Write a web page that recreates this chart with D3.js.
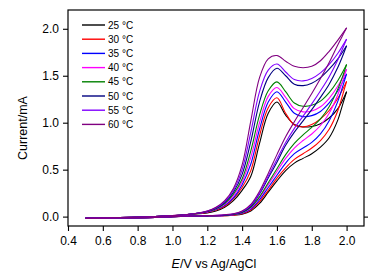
<!DOCTYPE html>
<html><head><meta charset="utf-8">
<script src="https://cdn.jsdelivr.net/npm/d3@7"></script>
<style>body{margin:0;background:#fff}svg{display:block}</style>
</head><body><svg id="c" width="390" height="280"></svg>
<script>
// ---- data ----
const temps = ["25 °C","30 °C","35 °C","40 °C","45 °C","50 °C","55 °C","60 °C"];
const colors = ["#000000","#ff0000","#0000ff","#ff00ff","#008000","#000080","#8000ff","#800080"];
const xTicks = [0.4,0.6,0.8,1.0,1.2,1.4,1.6,1.8,2.0];
const yTicks = [0.0,0.5,1.0,1.5,2.0];
// forward scan potentials and reverse scan potentials (V)
const xFwd = [0.5,0.7,0.9,1.0,1.1,1.2,1.25,1.3,1.35,1.4,1.45,1.5,1.55,1.6,1.65,1.7,1.75,1.8,1.85,1.9,1.95,2.0];
const xRev = [2.0,1.975,1.95,1.9,1.85,1.8,1.75,1.7,1.65,1.6,1.55,1.5,1.45,1.4,1.35,1.3,1.2,1.1,1.0,0.9,0.7,0.5];
// forward currents (mA)
const fwd25 = [-0.015,-0.01,0.0,0.01,0.025,0.04,0.06,0.10,0.17,0.28,0.43,0.78,1.10,1.22,1.08,0.98,0.955,0.96,0.99,1.05,1.15,1.33];
const fwd30 = [-0.015,-0.01,0.0,0.01,0.025,0.045,0.07,0.11,0.19,0.31,0.49,0.86,1.16,1.265,1.10,0.975,0.955,0.98,1.04,1.13,1.26,1.44];
const fwd35 = [-0.015,-0.01,0.0,0.01,0.025,0.05,0.075,0.12,0.20,0.34,0.56,0.93,1.22,1.33,1.22,1.10,1.065,1.075,1.12,1.21,1.34,1.52];
const fwd40 = [-0.015,-0.01,0.0,0.01,0.025,0.05,0.08,0.13,0.22,0.37,0.63,1.00,1.28,1.375,1.27,1.15,1.115,1.125,1.17,1.26,1.39,1.57];
const fwd45 = [-0.015,-0.01,0.0,0.01,0.025,0.055,0.085,0.14,0.24,0.40,0.70,1.08,1.34,1.435,1.33,1.21,1.175,1.185,1.23,1.32,1.45,1.62];
const fwd50 = [-0.015,-0.01,0.0,0.01,0.025,0.055,0.09,0.15,0.26,0.45,0.80,1.22,1.48,1.58,1.50,1.41,1.395,1.42,1.48,1.57,1.68,1.82];
const fwd55 = [-0.015,-0.01,0.0,0.01,0.025,0.06,0.095,0.16,0.28,0.50,0.90,1.33,1.56,1.625,1.54,1.46,1.445,1.47,1.53,1.62,1.74,1.89];
const fwd60 = [-0.015,-0.01,0.0,0.01,0.025,0.06,0.10,0.17,0.30,0.55,1.02,1.48,1.68,1.715,1.655,1.60,1.585,1.60,1.66,1.76,1.88,2.01];
// reverse currents (mA)
const rev25 = [1.33,1.18,1.03,0.84,0.74,0.67,0.62,0.57,0.49,0.38,0.26,0.14,0.06,0.025,0.015,0.01,0.005,0.005,0.0,-0.01,-0.015,-0.02];
const rev30 = [1.44,1.28,1.13,0.93,0.81,0.73,0.67,0.61,0.52,0.41,0.28,0.16,0.07,0.03,0.015,0.01,0.005,0.005,0.0,-0.01,-0.015,-0.02];
const rev35 = [1.52,1.37,1.23,1.02,0.88,0.79,0.73,0.67,0.57,0.44,0.31,0.18,0.08,0.035,0.02,0.012,0.006,0.005,0.0,-0.01,-0.015,-0.02];
const rev40 = [1.57,1.43,1.30,1.10,0.97,0.88,0.81,0.73,0.62,0.48,0.34,0.20,0.09,0.04,0.02,0.013,0.007,0.005,0.0,-0.01,-0.015,-0.02];
const rev45 = [1.62,1.48,1.36,1.17,1.04,0.95,0.87,0.78,0.66,0.51,0.36,0.21,0.10,0.045,0.022,0.014,0.008,0.005,0.0,-0.01,-0.015,-0.02];
const rev50 = [1.82,1.70,1.59,1.41,1.27,1.14,1.02,0.90,0.76,0.58,0.41,0.24,0.11,0.05,0.025,0.015,0.008,0.005,0.0,-0.01,-0.015,-0.02];
const rev55 = [1.89,1.78,1.67,1.49,1.34,1.20,1.07,0.94,0.79,0.61,0.43,0.25,0.12,0.055,0.03,0.02,0.01,0.005,0.0,-0.01,-0.015,-0.02];
const rev60 = [2.01,1.92,1.83,1.64,1.47,1.31,1.16,1.01,0.85,0.66,0.46,0.27,0.13,0.06,0.03,0.02,0.01,0.005,0.0,-0.01,-0.015,-0.02];

const fwdAll = [fwd25,fwd30,fwd35,fwd40,fwd45,fwd50,fwd55,fwd60];
const revAll = [rev25,rev30,rev35,rev40,rev45,rev50,rev55,rev60];

// ---- layout ----
const L=68, R=364, T=10, B=226;
const svg = d3.select("#c");
const x = d3.scaleLinear().domain([0.4,2.1]).range([L,R]);
const y = d3.scaleLinear().domain([-0.1,2.2]).range([B,T]);
const font = "Liberation Sans, Arial, sans-serif";

const line = d3.line().x(d=>x(d[0])).y(d=>y(d[1])).curve(d3.curveCatmullRom.alpha(0.5));
const g = svg.append("g");
fwdAll.forEach((arr,i)=>{
  g.append("path").attr("d", line(xFwd.map((v,j)=>[v,arr[j]])))
    .attr("fill","none").attr("stroke",colors[i]).attr("stroke-width",1.1);
  g.append("path").attr("d", line(xRev.map((v,j)=>[v,revAll[i][j]])))
    .attr("fill","none").attr("stroke",colors[i]).attr("stroke-width",1.1);
});

// frame
svg.append("rect").attr("x",L).attr("y",T).attr("width",R-L).attr("height",B-T)
  .attr("fill","none").attr("stroke","#000").attr("stroke-width",1.2);

// axes
const xAxis = svg.append("g").attr("transform",`translate(0,${B})`)
  .call(d3.axisBottom(x).tickValues(xTicks).tickFormat(d3.format(".1f")).tickSize(5).tickSizeOuter(0));
const yAxis = svg.append("g").attr("transform",`translate(${L},0)`)
  .call(d3.axisLeft(y).tickValues(yTicks).tickFormat(d3.format(".1f")).tickSize(5).tickSizeOuter(0));
const yAxisR = svg.append("g").attr("transform",`translate(${R},0)`)
  .call(d3.axisRight(y).tickValues(yTicks).tickFormat("").tickSize(4).tickSizeOuter(0));
[xAxis,yAxis,yAxisR].forEach(a=>{
  a.select(".domain").remove();
  a.selectAll("line").attr("stroke","#000").attr("stroke-width",1.1);
  a.selectAll("text").attr("font-family",font).attr("font-size",12).attr("fill","#000");
});
xAxis.selectAll("text").attr("dy","0.95em");
yAxis.selectAll("text").attr("dx","-1px");

// axis titles
svg.append("text").attr("transform",`translate(27,128) rotate(-90)`)
  .attr("text-anchor","middle").attr("font-family",font).attr("font-size",12.5).text("Current/mA");
const xt = svg.append("text").attr("x",214).attr("y",268).attr("text-anchor","middle")
  .attr("font-family",font).attr("font-size",12.5);
xt.append("tspan").attr("font-style","italic").text("E");
xt.append("tspan").text("/V vs Ag/AgCl");

// legend
const lg = svg.append("g");
temps.forEach((t,i)=>{
  const yy = 25 + i*14.2;
  lg.append("line").attr("x1",82).attr("x2",105).attr("y1",yy).attr("y2",yy)
    .attr("stroke",colors[i]).attr("stroke-width",1.4);
  lg.append("text").attr("x",108).attr("y",yy).attr("dy","0.35em")
    .attr("font-family",font).attr("font-size",10).attr("fill","#000").text(t);
});
</script></body></html>
